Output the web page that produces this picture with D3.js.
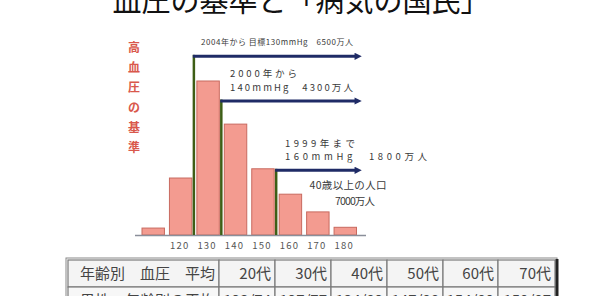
<!DOCTYPE html>
<html>
<head>
<meta charset="utf-8">
<script src="https://cdn.jsdelivr.net/npm/d3@7/dist/d3.min.js"></script>
<style>
  html, body { margin: 0; padding: 0; background: #ffffff; }
  svg { display: block; }
  text { font-family: "Noto Sans CJK JP", "Noto Sans", sans-serif; }
</style>
</head>
<body>
<svg id="chart" width="592" height="296"></svg>
<script>
// Blood-pressure distribution (systolic, mmHg bins) — relative share, tallest bin = 100
const binStarts = [110, 120, 130, 140, 150, 160, 170, 180];
const binValues = [4.5, 37, 100, 72, 43, 26.5, 15, 5];
const tickLabels = ["", "120", "130", "140", "150", "160", "170", "180"];

// Threshold annotations: cut-off value, the level the arrow runs at, and label lines
const thresholds = [130, 140, 160];
const thresholdLevels = [116, 87, 42];
const thresholdLabels = [
  ["2004年から 目標130mmHg　6500万人"],
  ["2000年から", "140mmHg　4300万人"],
  ["1999年まで", "160mmHg　1800万人"]
];
const populationLabel = ["40歳以上の人口", "7000万人"];

const titleText = "血圧の基準と「病気の国民」";
const sideLabel = ["高", "血", "圧", "の", "基", "準"];

// Average blood pressure by age group
const tableHeader = ["年齢別　血圧　平均", "20代", "30代", "40代", "50代", "60代", "70代"];
const tableRow = ["男性　年齢別の平均", "123/74", "127/77", "134/82", "147/88", "154/89", "159/87"];

const svg = d3.select("#chart");

const x = d3.scaleLinear().domain([110, 190]).range([138.5, 358]);
const y = d3.scaleLinear().domain([0, 100]).range([235, 81]);

// Title
svg.append("text")
  .attr("x", 301).attr("y", 12)
  .attr("text-anchor", "middle")
  .attr("font-size", 29)
  .attr("fill", "#111")
  .text(titleText);

// Vertical side label
svg.append("g").selectAll("text").data(sideLabel).join("text")
  .attr("x", 134)
  .attr("y", (d, i) => 52 + i * 20)
  .attr("text-anchor", "middle")
  .attr("font-size", 12)
  .attr("font-weight", 700)
  .attr("fill", "#d9584c")
  .text(d => d);

// Bars
svg.append("g").selectAll("rect").data(binStarts).join("rect")
  .attr("x", d => x(d) + 3.5)
  .attr("y", (d, i) => y(binValues[i]))
  .attr("width", d => x(d + 10) - x(d) - 5)
  .attr("height", (d, i) => y(0) - y(binValues[i]))
  .attr("fill", "#f39b90")
  .attr("stroke", "#c86a5f")
  .attr("stroke-width", 1);

// Baseline
svg.append("line")
  .attr("x1", 135).attr("x2", 366)
  .attr("y1", y(0) + 0.5).attr("y2", y(0) + 0.5)
  .attr("stroke", "#8a8f9a").attr("stroke-width", 1.5);

// Tick labels under the bins
svg.append("g").selectAll("text").data(binStarts).join("text")
  .attr("x", d => x(d + 5))
  .attr("y", 249)
  .attr("text-anchor", "middle")
  .attr("font-size", 9.5)
  .attr("letter-spacing", 1.2)
  .attr("fill", "#555")
  .text((d, i) => tickLabels[i]);

// Arrow marker
svg.append("defs").append("marker")
  .attr("id", "head")
  .attr("viewBox", "0 0 10 10")
  .attr("refX", 2).attr("refY", 5)
  .attr("markerWidth", 3.2).attr("markerHeight", 2.4)
  .attr("orient", "auto")
  .attr("markerUnits", "strokeWidth")
  .append("path")
  .attr("d", "M0,0 L10,5 L0,10 Z")
  .attr("fill", "#1f2b66");

// Threshold lines and arrows
const thr = svg.append("g");
thresholds.forEach((t, i) => {
  const lx = x(t) + 0.5;
  const ly = y(thresholdLevels[i]);
  thr.append("line")
    .attr("x1", lx).attr("x2", lx)
    .attr("y1", ly - 1.5).attr("y2", y(0))
    .attr("stroke", "#3e5e16").attr("stroke-width", 2.5);
  thr.append("line")
    .attr("x1", lx - 1).attr("x2", 356)
    .attr("y1", ly).attr("y2", ly)
    .attr("stroke", "#1f2b66").attr("stroke-width", 3)
    .attr("marker-end", "url(#head)");
});

// Annotation text
const annot = svg.append("g").attr("fill", "#3a3a3a").attr("font-size", 9.5);
function addLine(txt, ax, ay, len, size) {
  annot.append("text")
    .attr("x", ax).attr("y", ay)
    .attr("font-size", size || 9.5)
    .attr("textLength", len)
    .attr("lengthAdjust", "spacing")
    .text(txt);
}
addLine(thresholdLabels[0][0], 201, 45, 152, 8);
addLine(thresholdLabels[1][0], 230, 77, 67);
addLine(thresholdLabels[1][1], 230, 91, 123);
addLine(thresholdLabels[2][0], 285, 147, 70);
addLine(thresholdLabels[2][1], 285, 160, 142);
annot.append("text").attr("x", 348).attr("y", 189).attr("text-anchor", "middle")
  .attr("font-size", 10.5).attr("textLength", 77).attr("lengthAdjust", "spacing")
  .text(populationLabel[0]);
annot.append("text").attr("x", 355).attr("y", 205).attr("text-anchor", "middle")
  .attr("font-size", 10.5).attr("textLength", 40).attr("lengthAdjust", "spacing")
  .text(populationLabel[1]);

// Table
const colEdges = [68, 219, 275, 331, 387, 443, 498, 555];
const rowTops = [260, 287, 314];
const tbl = svg.append("g");
tbl.selectAll("rect.cell").data(tableHeader).join("rect")
  .attr("class", "cell")
  .attr("x", (d, i) => colEdges[i]).attr("y", rowTops[0])
  .attr("width", (d, i) => colEdges[i + 1] - colEdges[i])
  .attr("height", rowTops[1] - rowTops[0])
  .attr("fill", "#f4f4f4").attr("stroke", "#7a7a7a").attr("stroke-width", 1.2);
tbl.selectAll("rect.cell2").data(tableRow).join("rect")
  .attr("class", "cell2")
  .attr("x", (d, i) => colEdges[i]).attr("y", rowTops[1])
  .attr("width", (d, i) => colEdges[i + 1] - colEdges[i])
  .attr("height", rowTops[2] - rowTops[1])
  .attr("fill", "#f7f7f7").attr("stroke", "#7a7a7a").attr("stroke-width", 1.2);
tbl.append("rect")
  .attr("x", 66).attr("y", 258).attr("width", 491).attr("height", 60)
  .attr("fill", "none").attr("stroke", "#888").attr("stroke-width", 1);
tbl.append("line")
  .attr("x1", 557).attr("x2", 557).attr("y1", 259).attr("y2", 300)
  .attr("stroke", "#222").attr("stroke-width", 3);
tbl.selectAll("text.h").data(tableHeader).join("text")
  .attr("class", "h")
  .attr("x", (d, i) => colEdges[i + 1] - 4)
  .attr("y", 279)
  .attr("text-anchor", "end")
  .attr("font-size", 15)
  .attr("fill", "#444")
  .text(d => d);
tbl.selectAll("text.r").data(tableRow).join("text")
  .attr("class", "r")
  .attr("x", (d, i) => colEdges[i + 1] - 4)
  .attr("y", 306)
  .attr("text-anchor", "end")
  .attr("font-size", 15)
  .attr("fill", "#444")
  .text(d => d);
</script>
</body>
</html>
